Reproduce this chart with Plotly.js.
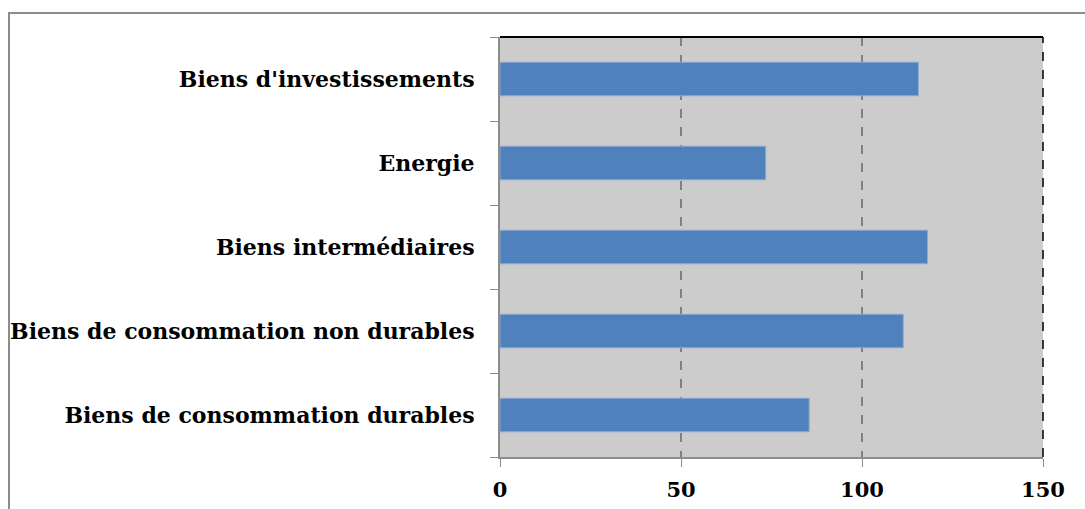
<!DOCTYPE html>
<html>
<head>
<meta charset="utf-8">
<script src="https://cdn.plot.ly/plotly-3.0.1.min.js"></script>
<style>
  html, body { margin: 0; padding: 0; background: #fff; }
  #wrap { position: relative; width: 1085px; height: 509px; overflow: hidden; }
  #chart { width: 1085px; height: 509px; }
  #frame { position: absolute; left: 8px; top: 12px; width: 1100px; height: 600px;
           border-left: 2px solid #8c8c8c; border-top: 2px solid #8c8c8c; pointer-events: none; }
</style>
</head>
<body>
<div id="wrap">
  <div id="chart"></div>
  <div id="frame"></div>
</div>
<script>
const categories = [
  "Biens de consommation durables",
  "Biens de consommation non durables",
  "Biens intermédiaires",
  "Energie",
  "Biens d'investissements"
];
const values = [85.4, 111.4, 118.1, 73.4, 115.6];
const xTicks = [0, 50, 100, 150];

const labelFont = { family: "DejaVu Serif", size: 22, color: "#000", weight: "bold" };

const trace = {
  type: "bar",
  orientation: "h",
  y: categories,
  x: values,
  marker: { color: "#4f81bd", line: { color: "#8eaad6", width: 1 } },
  hoverinfo: "x+y"
};

const layout = {
  width: 1085, height: 509,
  margin: { l: 500, r: 42, t: 37, b: 52, pad: 0 },
  paper_bgcolor: "#ffffff",
  plot_bgcolor: "#cccccc",
  bargap: 0.6,
  showlegend: false,
  xaxis: {
    range: [0, 150],
    tickvals: xTicks,
    ticktext: xTicks.map(String),
    showgrid: true,
    gridcolor: "#808080",
    gridwidth: 1.5,
    griddash: "dash",
    zeroline: false,
    showline: true,
    linecolor: "#8c8c8c",
    linewidth: 2,
    ticks: "outside",
    ticklen: 8,
    tickcolor: "#8c8c8c",
    tickwidth: 1,
    ticklabelstandoff: 5,
    tickfont: { family: "DejaVu Serif", size: 21, color: "#000", weight: "bold" },
    fixedrange: true
  },
  yaxis: {
    type: "category",
    categoryorder: "array",
    categoryarray: categories,
    tickson: "boundaries",
    ticks: "outside",
    ticklen: 8,
    tickcolor: "#8c8c8c",
    tickwidth: 1,
    showgrid: false,
    showline: true,
    linecolor: "#8c8c8c",
    linewidth: 2,
    ticklabelstandoff: 19,
    tickfont: labelFont,
    automargin: false,
    fixedrange: true
  },
  shapes: [
    { type: "line", xref: "paper", yref: "paper", x0: 0, x1: 1, y0: 1, y1: 1,
      line: { color: "#000000", width: 2 } },
    { type: "line", xref: "paper", yref: "paper", x0: 1, x1: 1, y0: 0, y1: 1,
      line: { color: "#000000", width: 1.5, dash: "dash" } }
  ]
};

Plotly.newPlot("chart", [trace], layout, { displayModeBar: false, staticPlot: false });
</script>
</body>
</html>
